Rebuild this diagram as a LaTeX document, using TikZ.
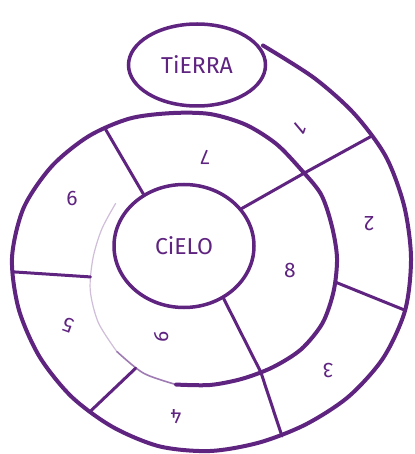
\documentclass[tikz,border=0pt]{standalone}
\usepackage{fontspec}
\setsansfont{Fira Sans}
\usepackage{tikz}
\usetikzlibrary{shapes.geometric}
\definecolor{ink}{RGB}{95,35,128}

\begin{document}
\begin{tikzpicture}[x=1pt, y=-1pt,
  ring/.style={ellipse, draw=ink, line width=3.5pt, inner sep=0pt, text=ink, font=\sffamily\fontsize{23}{23}\selectfont},
  spiral/.style={draw=ink, line width=4pt, line cap=round, line join=round},
  faint/.style={draw=ink, line width=1.2pt, line cap=round, opacity=.3},
  divider/.style={draw=ink, line width=3pt, line cap=round},
  num/.style={text=ink, inner sep=0pt, font=\sffamily\fontsize{21}{21}\selectfont}
]
\useasboundingbox (0,0) rectangle (414,454);

\node[ring, minimum width=137pt, minimum height=82pt] (tierra) at (197,65) {TiERRA};
\node[ring, minimum width=140pt, minimum height=123pt] (cielo) at (184,246) {CiELO};

% the path round from tierra to cielo, in polar steps
\begin{scope}[shift={(210,258)}]
\draw[spiral] plot[smooth] coordinates {(-76:219) (-60:208) (-45:204) (-30:203) (-15:201)
  (0:201) (15:202) (30:200) (45:196) (60:192) (75:191) (90:193) (105:195) (120:195)
  (135:196) (150:197) (165:198) (180:198) (195:193) (210:183) (225:172) (240:161)
  (255:150) (270:144) (285:138) (300:132) (315:127) (330:128) (345:126) (360:127)
  (375:128) (390:130) (405:129) (420:126) (435:125) (450:127) (465:131)};
\draw[draw=ink, line width=1.6pt, opacity=.6] plot[smooth] coordinates {(465:131) (480:133) (495:132)};
\draw[faint] plot[smooth] coordinates {(495:132) (510:129) (525:124) (540:117) (555:112) (570:109)};

\coordinate (o1) at (-37:203);
\coordinate (s1) at (318:127);
\coordinate (o2) at (15:202);
\coordinate (s2) at (371:129);
\coordinate (o3) at (68:192);
\coordinate (s3) at (426:125);
\coordinate (o4) at (128:195);
\coordinate (s4) at (484:133);
\coordinate (o5) at (176:198);
\coordinate (s5) at (531:121);
\coordinate (o6) at (231:167);
\end{scope}

\draw[divider] (cielo.33) -- (s1) -- (o1);
\draw[divider] (s2) -- (o2);
\draw[divider] (cielo.-53) -- (s3) -- (o3);
\draw[divider] (s4) -- (o4);
\draw[divider] (s5) -- (o5);
\draw[divider] (cielo.128) -- (o6);

\node[num, rotate=-140] (n1) at (301,128) {1};
\node[num, rotate=180] (n2) at (369,224) {2};
\node[num, rotate=180] (n3) at (328,370) {3};
\node[num, rotate=180] (n4) at (176,417) {4};
\node[num, rotate=160] (n5) at (68,325) {5};
\node[num] (n6) at (72,198) {6};
\node[num, rotate=180] (n7) at (205,157) {7};
\node[num] (n8) at (290,270) {8};
\node[num, rotate=-95] (n9) at (161,337) {9};
\end{tikzpicture}
\end{document}
